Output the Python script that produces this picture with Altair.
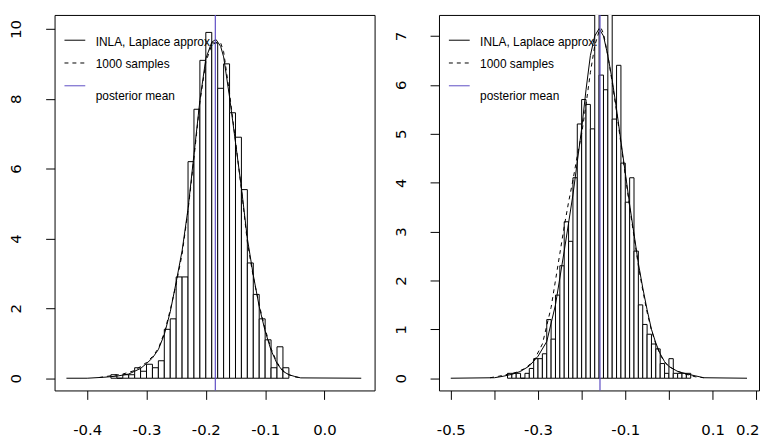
import altair as alt
import pandas as pd

BIN_WIDTH = 0.01

# ---------------- left panel ----------------
left_bins = [-0.36, -0.35, -0.34, -0.33, -0.32, -0.31, -0.30, -0.29, -0.28, -0.27,
             -0.26, -0.25, -0.24, -0.23, -0.22, -0.21, -0.20, -0.19, -0.18, -0.17,
             -0.16, -0.15, -0.14, -0.13, -0.12, -0.11, -0.10, -0.09, -0.08, -0.07]
left_density = [0.1, 0.0, 0.1, 0.1, 0.3, 0.2, 0.4, 0.3, 0.5, 1.4,
                 1.7, 2.9, 2.9, 6.2, 7.7, 9.1, 9.9, 9.6, 8.3, 9.0,
                 7.6, 6.9, 5.4, 3.3, 2.4, 1.7, 1.1, 0.3, 0.9, 0.3]
left_inla_x = [-0.435, -0.40, -0.37, -0.35, -0.33, -0.31, -0.30, -0.29, -0.28, -0.27,
               -0.26, -0.25, -0.24, -0.23, -0.22, -0.21, -0.20, -0.19, -0.183, -0.175,
               -0.17, -0.16, -0.15, -0.14, -0.13, -0.12, -0.11, -0.10, -0.09, -0.08,
               -0.07, -0.06, -0.05, -0.04, 0.062]
left_inla_y = [0, 0, 0.03, 0.06, 0.12, 0.28, 0.42, 0.58, 0.82, 1.25,
               1.9, 2.75, 3.65, 4.85, 6.4, 7.95, 9.15, 9.62, 9.7, 9.5,
               9.2, 8.05, 6.75, 5.45, 4.0, 2.95, 2.05, 1.35, 0.8, 0.42,
               0.2, 0.1, 0.05, 0.01, 0]
left_samp_x = [-0.38, -0.36, -0.34, -0.32, -0.30, -0.29, -0.28, -0.27, -0.26, -0.25,
               -0.24, -0.23, -0.22, -0.21, -0.20, -0.19, -0.18, -0.175, -0.17, -0.16,
               -0.15, -0.14, -0.13, -0.12, -0.11, -0.10, -0.09, -0.08, -0.07, -0.06,
               -0.05, -0.04]
left_samp_y = [0.02, 0.07, 0.12, 0.22, 0.45, 0.62, 0.85, 1.3, 1.95, 2.7,
               3.55, 4.8, 6.3, 7.9, 9.05, 9.55, 9.62, 9.6, 9.35, 8.15,
               6.8, 5.4, 3.9, 2.9, 2.1, 1.4, 0.85, 0.45, 0.22, 0.1,
               0.04, 0.01]
left_mean = -0.184
left_xticks = [-0.4, -0.3, -0.2, -0.1, 0.0]
left_xlabels = [-0.4, -0.3, -0.2, -0.1, 0.0]
left_yticks = [0, 2, 4, 6, 8, 10]

# ---------------- right panel ----------------
right_bins = [-0.37, -0.36, -0.35, -0.34, -0.33, -0.32, -0.31, -0.30, -0.29, -0.28,
              -0.27, -0.26, -0.25, -0.24, -0.23, -0.22, -0.21, -0.20, -0.19, -0.18,
              -0.17, -0.16, -0.15, -0.14, -0.13, -0.12, -0.11, -0.10, -0.09, -0.08,
              -0.07, -0.06, -0.05, -0.04, -0.03, -0.02, -0.01, 0.00, 0.01, 0.02,
              0.03, 0.04]
right_density = [0.1, 0.1, 0.1, 0.0, 0.1, 0.2, 0.4, 0.4, 0.5, 1.2,
                 0.8, 1.7, 2.3, 3.2, 2.8, 4.1, 5.2, 5.7, 5.6, 5.1,
                 7.9, 6.2, 5.9, 7.9, 5.3, 6.4, 4.4, 3.6, 4.1, 2.6,
                 1.5, 1.1, 0.9, 0.7, 0.6, 0.3, 0.1, 0.4, 0.1, 0.1,
                 0.1, 0.1]
right_inla_x = [-0.50, -0.40, -0.38, -0.36, -0.34, -0.32, -0.30, -0.28, -0.26, -0.24,
                -0.22, -0.20, -0.19, -0.18, -0.17, -0.16, -0.15, -0.14, -0.13, -0.12,
                -0.11, -0.10, -0.09, -0.08, -0.07, -0.06, -0.05, -0.04, -0.03, -0.02,
                -0.01, 0.00, 0.02, 0.04, 0.06, 0.08, 0.179]
right_inla_y = [0, 0.01, 0.04, 0.08, 0.14, 0.25, 0.45, 0.75, 1.5, 2.6,
                3.75, 5.1, 5.9, 6.6, 7.0, 7.15, 7.0, 6.6, 6.1, 5.5,
                4.85, 4.2, 3.55, 2.95, 2.35, 1.85, 1.4, 1.0, 0.72, 0.5,
                0.34, 0.24, 0.14, 0.09, 0.05, 0.01, 0]
right_samp_x = [-0.41, -0.39, -0.37, -0.35, -0.33, -0.31, -0.29, -0.27, -0.26, -0.25,
                -0.24, -0.23, -0.22, -0.21, -0.20, -0.19, -0.18, -0.17, -0.16, -0.155,
                -0.15, -0.14, -0.13, -0.12, -0.11, -0.10, -0.09, -0.08, -0.07, -0.06,
                -0.05, -0.04, -0.03, -0.02, -0.01, 0.00, 0.02, 0.04, 0.06, 0.08]
right_samp_y = [0.01, 0.04, 0.08, 0.12, 0.2, 0.35, 0.7, 1.45, 2.0, 2.55,
                3.1, 3.6, 4.05, 4.55, 5.0, 5.6, 6.25, 6.8, 7.1, 7.15,
                7.05, 6.6, 6.05, 5.45, 4.8, 4.15, 3.5, 2.9, 2.3, 1.8,
                1.35, 0.98, 0.7, 0.48, 0.33, 0.24, 0.14, 0.08, 0.03, 0.01]
right_mean = -0.158
right_xticks = [-0.5, -0.4, -0.3, -0.2, -0.1, 0.0, 0.1, 0.2]
right_xlabels = [-0.5, -0.3, -0.1, 0.1, 0.2]
right_yticks = [0, 1, 2, 3, 4, 5, 6, 7]

legend_labels = ["INLA, Laplace approx.", "1000 samples", "posterior mean"]

PURPLE = "#5e4ec4"
W, H = 323, 379


def panel(bins, dens, ix, iy, sx, sy, mean, xdom, ydom, xticks, xlabels, yticks, last_shift):
    shown = "[" + ",".join(str(int(round(v * 10))) for v in xlabels) + "]"
    label_expr = (
        f"indexof({shown}, round(datum.value*10)) >= 0 ? "
        "(datum.value < -0.0001 ? '-' + format(-datum.value, '.1f') : format(abs(datum.value), '.1f')) : ''"
    )
    xaxis = alt.Axis(values=xticks, labelExpr=label_expr, title=None, domain=False, grid=False,
                     tickSize=9, tickColor="black", labelPadding=23, labelFont="DejaVu Sans",
                     labelFontSize=15, labelColor="black", labelFlush=False, labelOverlap=False,
                     labelBaseline="top",
                     labelOffset={"condition": {"test": "datum.value > 0.15", "value": last_shift},
                                  "value": 0})
    yaxis = alt.Axis(values=yticks, format="d", title=None, domain=False, grid=False,
                     tickSize=9, tickColor="black", labelPadding=22, labelFont="DejaVu Sans",
                     labelFontSize=15, labelColor="black", labelAngle=270, labelAlign="center",
                     labelBaseline="bottom", minExtent=44, maxExtent=44, labelFlush=False,
                     labelOverlap=False)
    xs = alt.Scale(domain=xdom, nice=False, zero=False)
    ys = alt.Scale(domain=ydom, nice=False, zero=False)

    hist_df = pd.DataFrame({"x": bins, "x2": [b + BIN_WIDTH for b in bins], "h": dens})
    bars = alt.Chart(hist_df).mark_rect(fill="white", stroke="black", strokeWidth=1, clip=True).encode(
        x=alt.X("x:Q", scale=xs, axis=xaxis),
        x2="x2:Q",
        y=alt.Y("h:Q", scale=ys, axis=yaxis),
        y2=alt.datum(0),
    )
    inla = alt.Chart(pd.DataFrame({"x": ix, "y": iy})).mark_line(
        color="black", strokeWidth=1, clip=True).encode(
        x=alt.X("x:Q", scale=xs, axis=xaxis), y=alt.Y("y:Q", scale=ys, axis=yaxis))
    samp = alt.Chart(pd.DataFrame({"x": sx, "y": sy})).mark_line(
        color="black", strokeWidth=1, strokeDash=[4, 4], clip=True).encode(
        x=alt.X("x:Q", scale=xs, axis=xaxis), y=alt.Y("y:Q", scale=ys, axis=yaxis))
    mrule = alt.Chart(pd.DataFrame({"m": [mean]})).mark_rule(
        color=PURPLE, strokeWidth=1.2).encode(x=alt.X("m:Q", scale=xs, axis=xaxis))

    one = pd.DataFrame({"a": [0]})
    leg1 = alt.Chart(one).mark_rule(color="black", strokeWidth=1).encode(
        x=alt.value(10), x2=alt.value(31), y=alt.value(25.5))
    leg2 = alt.Chart(one).mark_rule(color="black", strokeWidth=1, strokeDash=[4, 4]).encode(
        x=alt.value(10), x2=alt.value(31), y=alt.value(48.5))
    leg3 = alt.Chart(one).mark_rule(color=PURPLE, strokeWidth=1).encode(
        x=alt.value(10), x2=alt.value(31), y=alt.value(71.5))
    leg_df = pd.DataFrame({"label": legend_labels, "ypos": [27, 49.5, 81.5]})
    legtext = alt.Chart(leg_df).mark_text(
        align="left", baseline="middle", font="Liberation Sans", fontSize=12, color="black").encode(
        x=alt.value(41.5), y=alt.Y("ypos:Q", scale=None), text="label:N")

    return alt.layer(bars, inla, samp, mrule, leg1, leg2, leg3, legtext).properties(width=W, height=H)


left = panel(left_bins, left_density, left_inla_x, left_inla_y, left_samp_x, left_samp_y,
             left_mean, [-0.455, 0.0845], [-0.35, 10.4], left_xticks, left_xlabels, left_yticks, 0)
right = panel(right_bins, right_density, right_inla_x, right_inla_y, right_samp_x, right_samp_y,
              right_mean, [-0.527, 0.2065], [-0.25, 7.43], right_xticks, right_xlabels, right_yticks, -9)

chart = alt.hconcat(left, right, spacing=17).properties(
    padding={"left": 0, "top": 3, "right": 0, "bottom": 0},
    background="white",
).configure_view(stroke="black", strokeWidth=1)

chart.save("out.html", embed_options={"renderer": "svg", "actions": False})
